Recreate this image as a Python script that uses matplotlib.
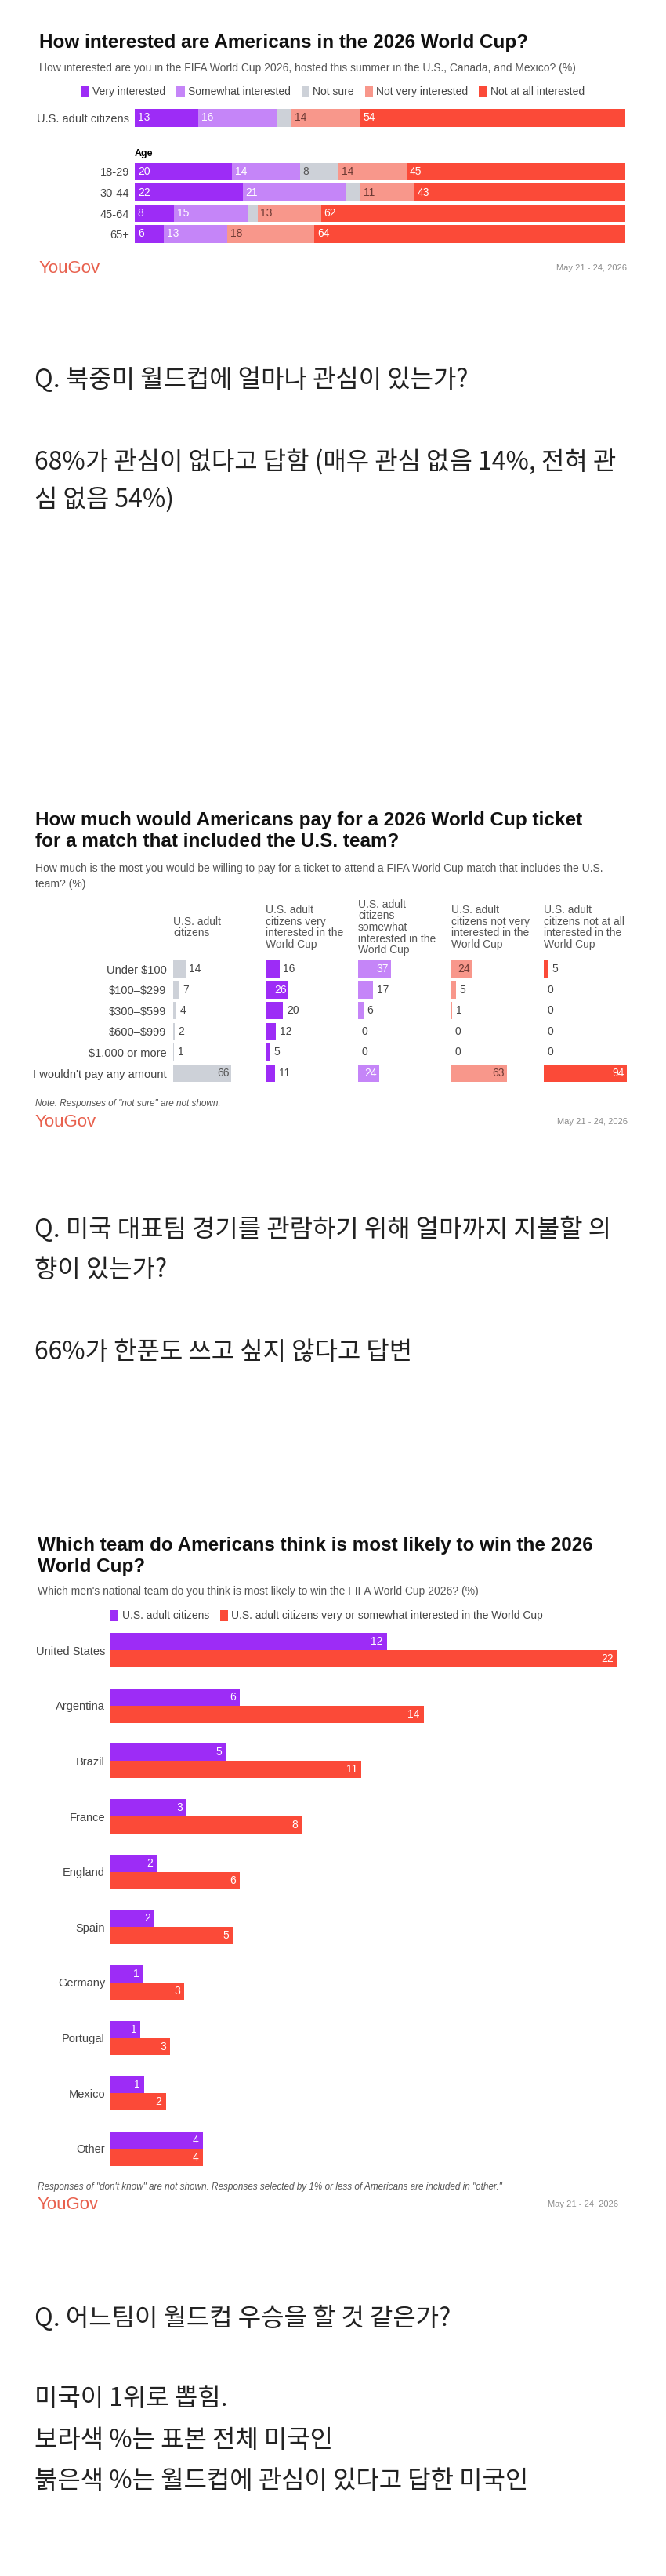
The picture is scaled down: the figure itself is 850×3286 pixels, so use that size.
import matplotlib.pyplot as plt
from matplotlib.patches import Patch
import numpy as np

plt.rcParams['font.family'] = ['Liberation Sans Narrow', 'Liberation Sans', 'DejaVu Sans']
plt.rcParams['text.parse_math'] = False

W, H = 850, 3286
TITLE_FONT = ['Liberation Sans', 'DejaVu Sans']
KO_FONT = ['Noto Sans CJK KR', 'DejaVu Sans']
TITLE_SIZE = 17.5
KO_SIZE = 23

# ---- chart 1: interest in the World Cup
interest_levels = ['Very interested', 'Somewhat interested', 'Not sure',
                   'Not very interested', 'Not at all interested']
interest_colors = ['#9d2cf6', '#c585f8', '#cdd1d8', '#f8978b', '#fb4a38']
interest_text = ['white', 'white', '#555555', '#6e3a34', 'white']
total_row = [13, 16, 3, 14, 54]
age_groups = ['18-29', '30-44', '45-64', '65+']
age_rows = [[20, 14, 8, 14, 45],
            [22, 21, 3, 11, 43],
            [8, 15, 2, 13, 62],
            [6, 13, 0, 18, 64]]

# ---- chart 2: ticket price
price_labels = ['Under $100', '$100–$299', '$300–$599', '$600–$999',
                '$1,000 or more', "I wouldn't pay any amount"]
price_groups = ['U.S. adult\ncitizens',
                'U.S. adult\ncitizens very\ninterested in the\nWorld Cup',
                'U.S. adult\ncitizens\nsomewhat\ninterested in the\nWorld Cup',
                'U.S. adult\ncitizens not very\ninterested in the\nWorld Cup',
                'U.S. adult\ncitizens not at all\ninterested in the\nWorld Cup']
price_all = [14, 7, 4, 2, 1, 66]
price_very = [16, 26, 20, 12, 5, 11]
price_somewhat = [37, 17, 6, 0, 0, 24]
price_notvery = [24, 5, 1, 0, 0, 63]
price_notatall = [5, 0, 0, 0, 0, 94]
price_colors = ['#cdd1d8', '#9d2cf6', '#c585f8', '#f8978b', '#fb4a38']
price_inside_text = ['#555555', 'white', 'white', '#6e3a34', 'white']

# ---- chart 3: likely winner
teams = ['United States', 'Argentina', 'Brazil', 'France', 'England', 'Spain',
         'Germany', 'Portugal', 'Mexico', 'Other']
win_all = [12.0, 5.6, 5.0, 3.3, 2.0, 1.9, 1.4, 1.3, 1.45, 4.0]
win_interested = [22.0, 13.6, 10.9, 8.3, 5.6, 5.3, 3.2, 2.6, 2.4, 4.0]
win_colors = ['#9d2cf6', '#fb4a38']
win_series = ['U.S. adult citizens',
              'U.S. adult citizens very or somewhat interested in the World Cup']

fig = plt.figure(figsize=(W / 100, H / 100), dpi=100)
fig.patch.set_facecolor('white')


def fx(px):
    return px / W


def fy(py):
    return 1 - py / H


def panel(x0, y0, x1, y1):
    ax = fig.add_axes([fx(x0), fy(y1), (x1 - x0) / W, (y1 - y0) / H])
    for s in ax.spines.values():
        s.set_visible(False)
    ax.set_xticks([])
    ax.tick_params(length=0)
    return ax


def title(x, y, text):
    fig.text(fx(x), fy(y), text, fontsize=TITLE_SIZE, fontweight='bold',
             family=TITLE_FONT, va='center', color='#111111')


def footer(x_left, x_right, y):
    fig.text(fx(x_left), fy(y), 'YouGov', fontsize=16, color='#e8604d', va='center')
    fig.text(fx(x_right), fy(y), 'May 21 - 24, 2026', fontsize=8, color='#8a8a8a',
             ha='right', va='center')


def korean(lines, ys):
    for t, yy in zip(lines, ys):
        fig.text(fx(44), fy(yy), t, fontsize=KO_SIZE, family=KO_FONT,
                 color='#222222', va='center')


def stacked(ax, rows):
    for i, row in enumerate(rows):
        tot = sum(row)
        left = 0
        for v, c, tc in zip(row, interest_colors, interest_text):
            w = v / tot * 100
            ax.barh(i, w, left=left, height=0.84, color=c)
            if v >= 4:
                ax.text(left + 0.6, i, str(v), va='center', ha='left',
                        color=tc, fontsize=10)
            left += w
    ax.set_xlim(0, 100)


# ================= chart 1 =================
title(50, 55, 'How interested are Americans in the 2026 World Cup?')
fig.text(fx(50), fy(87), 'How interested are you in the FIFA World Cup 2026, hosted this '
         'summer in the U.S., Canada, and Mexico? (%)', fontsize=10, color='#555555',
         va='center')
fig.legend(handles=[Patch(facecolor=c, label=l) for c, l in zip(interest_colors, interest_levels)],
           loc='center', bbox_to_anchor=(fx(425), fy(117)), ncol=5, frameon=False,
           fontsize=10, handlelength=0.75, handleheight=1.2, handletextpad=0.3,
           columnspacing=1.0, borderaxespad=0, labelcolor='#444444')

ax1 = panel(172, 137, 798, 164)
stacked(ax1, [total_row])
ax1.set_ylim(0.5, -0.5)
ax1.set_yticks([0])
ax1.set_yticklabels(['U.S. adult citizens'], fontsize=10.5, color='#444444')
ax1.tick_params(axis='y', pad=5)

fig.text(fx(172), fy(196), 'Age', fontsize=9, fontweight='bold', va='center')
ax2 = panel(172, 205.75, 798, 311.75)
stacked(ax2, age_rows)
ax2.set_ylim(3.5, -0.5)
ax2.set_yticks(range(len(age_groups)))
ax2.set_yticklabels(age_groups, fontsize=10.5, color='#444444')
ax2.tick_params(axis='y', pad=5)
footer(50, 800, 342)

# ================= korean text 1 =================
korean(['Q. 북중미 월드컵에 얼마나 관심이 있는가?',
        '68%가 관심이 없다고 답함 (매우 관심 없음 14%, 전혀 관',
        '심 없음 54%)'], [485, 590, 637])

# ================= chart 2 =================
title(45, 1047, 'How much would Americans pay for a 2026 World Cup ticket')
title(45, 1073, 'for a match that included the U.S. team?')
fig.text(fx(45), fy(1108), 'How much is the most you would be willing to pay for a ticket to '
         'attend a FIFA World Cup match that includes the U.S.', fontsize=10,
         color='#555555', va='center')
fig.text(fx(45), fy(1128), 'team? (%)', fontsize=10, color='#555555', va='center')

price_data = [price_all, price_very, price_somewhat, price_notvery, price_notatall]
col_x = [221, 339, 457, 576, 694]
for k, (vals, c, tc, head, x0) in enumerate(zip(price_data, price_colors, price_inside_text,
                                                   price_groups, col_x)):
    ax = panel(x0, 1222.7, x0 + 118, 1382.3)
    ax.barh(range(len(vals)), vals, height=0.83, color=c)
    ax.set_xlim(0, 105)
    ax.set_ylim(len(vals) - 0.5, -0.5)
    for i, v in enumerate(vals):
        if v >= 24:
            ax.text(v - 2.5, i, str(v), ha='right', va='center', color=tc, fontsize=10)
        else:
            ax.text(v + 4, i, str(v), ha='left', va='center', color='#444444', fontsize=10)
    if k == 0:
        ax.set_yticks(range(len(price_labels)))
        ax.set_yticklabels(price_labels, fontsize=10.5, color='#444444')
        ax.tick_params(axis='y', pad=6)
    else:
        ax.set_yticks([])
    fig.text(fx(x0), fy(1183), head, fontsize=10, color='#555555', va='center',
             linespacing=1.05)

fig.text(fx(45), fy(1408), 'Note: Responses of "not sure" are not shown.', fontsize=8.5,
         style='italic', color='#555555', va='center')
footer(45, 801, 1431)

# ================= korean text 2 =================
korean(['Q. 미국 대표팀 경기를 관람하기 위해 얼마까지 지불할 의',
        '향이 있는가?',
        '66%가 한푼도 쓰고 싶지 않다고 답변'], [1568, 1620, 1725])

# ================= chart 3 =================
title(48, 1972, 'Which team do Americans think is most likely to win the 2026')
title(48, 1998, 'World Cup?')
fig.text(fx(48), fy(2030), "Which men's national team do you think is most likely to win "
         "the FIFA World Cup 2026? (%)", fontsize=10, color='#555555', va='center')
fig.legend(handles=[Patch(facecolor=c, label=l) for c, l in zip(win_colors, win_series)],
           loc='center', bbox_to_anchor=(fx(417), fy(2061)), ncol=2, frameon=False,
           fontsize=10, handlelength=0.75, handleheight=1.2, handletextpad=0.3,
           columnspacing=1.0, borderaxespad=0, labelcolor='#444444')

ax3 = panel(141, 2069.7, 800, 2776.3)
y = np.arange(len(teams))
bh = 22 / 70.6
ax3.barh(y - bh / 2, win_all, height=bh, color=win_colors[0])
ax3.barh(y + bh / 2, win_interested, height=bh, color=win_colors[1])
ax3.set_xlim(0, 659 / 29.4)
ax3.set_ylim(len(teams) - 0.5, -0.5)
for i in range(len(teams)):
    ax3.text(win_all[i] - 0.17, y[i] - bh / 2, f'{round(win_all[i])}', ha='right',
             va='center', color='white', fontsize=10)
    ax3.text(win_interested[i] - 0.17, y[i] + bh / 2, f'{round(win_interested[i])}',
             ha='right', va='center', color='white', fontsize=10)
ax3.set_yticks(y)
ax3.set_yticklabels(teams, fontsize=10.5, color='#444444')
ax3.tick_params(axis='y', pad=5)

fig.text(fx(48), fy(2790), 'Responses of "don\'t know" are not shown. Responses selected by 1% '
         'or less of Americans are included in "other."', fontsize=8.5, style='italic',
         color='#555555', va='center')
footer(48, 789, 2812)

# ================= korean text 3 =================
korean(['Q. 어느팀이 월드컵 우승을 할 것 같은가?',
        '미국이 1위로 뽑힘.',
        '보라색 %는 표본 전체 미국인',
        '붉은색 %는 월드컵에 관심이 있다고 답한 미국인'], [2957, 3060, 3113, 3165])

fig.savefig('out.png', dpi=100, facecolor='white')
